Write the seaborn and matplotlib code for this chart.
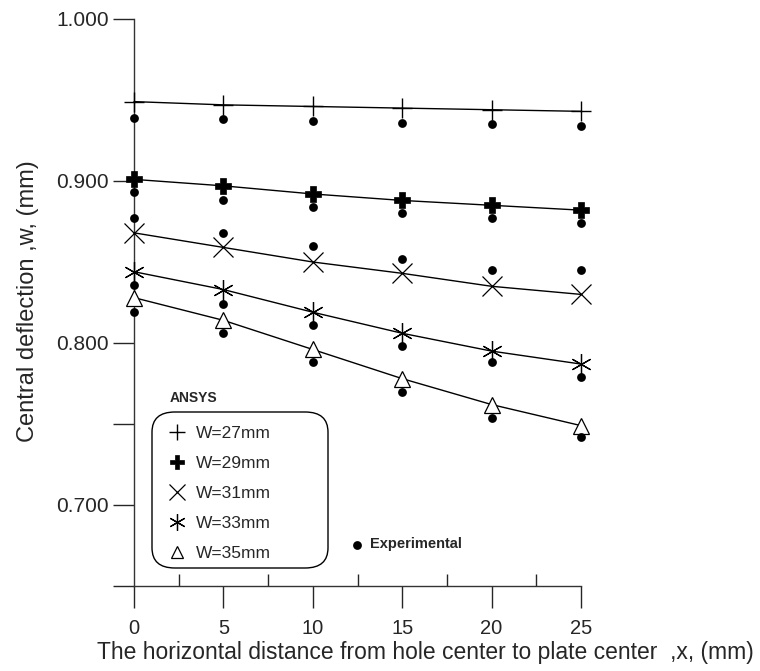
import numpy as np
import pandas as pd
import seaborn as sns
import matplotlib.pyplot as plt
from matplotlib.lines import Line2D
from matplotlib.patches import FancyBboxPatch
from matplotlib.ticker import MultipleLocator, FixedLocator

# distance from hole center to plate center (mm)
x = [0, 5, 10, 15, 20, 25]

# ANSYS central deflection (mm)
ansys_w27 = [0.949, 0.947, 0.946, 0.945, 0.944, 0.943]
ansys_w29 = [0.901, 0.897, 0.892, 0.888, 0.885, 0.882]
ansys_w31 = [0.868, 0.859, 0.850, 0.843, 0.835, 0.830]
ansys_w33 = [0.844, 0.833, 0.819, 0.806, 0.795, 0.787]
ansys_w35 = [0.828, 0.814, 0.796, 0.778, 0.762, 0.749]

# experimental central deflection (mm)
exp_w27 = [0.939, 0.938, 0.937, 0.936, 0.935, 0.934]
exp_w29 = [0.893, 0.888, 0.884, 0.880, 0.877, 0.874]
exp_w31 = [0.877, 0.868, 0.860, 0.852, 0.845, 0.845]
exp_w33 = [0.836, 0.824, 0.811, 0.798, 0.788, 0.779]
exp_w35 = [0.819, 0.806, 0.788, 0.770, 0.754, 0.742]

labels = ['W=27mm', 'W=29mm', 'W=31mm', 'W=33mm', 'W=35mm']

sns.set_style('white')
plt.rcParams['font.family'] = ['Liberation Sans', 'DejaVu Sans']

fig = plt.figure(figsize=(7.6, 6.71), dpi=100)
ax = fig.add_axes([134 / 760, 85 / 671, 447 / 760, 567 / 671])

# marker styles per width
styles = [
    dict(marker='+', markersize=15, mew=1.0, mfc='none'),
    dict(marker='P', markersize=12, mew=0.5, mfc='black'),
    dict(marker='x', markersize=14, mew=0.9, mfc='none'),
    dict(marker=(6, 2, 0), markersize=15, mew=0.9, mfc='none'),
    dict(marker='^', markersize=11, mew=0.9, mfc='white'),
]

ansys = [ansys_w27, ansys_w29, ansys_w31, ansys_w33, ansys_w35]
exper = [exp_w27, exp_w29, exp_w31, exp_w33, exp_w35]

for vals, st in zip(ansys, styles):
    sns.lineplot(x=x, y=vals, ax=ax, color='black', lw=1.0, mec='black',
                 clip_on=False, zorder=3, **st)

exp_df = pd.DataFrame({'x': x * 5, 'w': np.concatenate(exper)})
sns.scatterplot(data=exp_df, x='x', y='w', ax=ax, color='black', s=40,
                edgecolor='black', linewidth=0, clip_on=False, zorder=4)

ax.set_xlim(0, 25)
ax.set_ylim(0.65, 1.0)

for side in ['top', 'right']:
    ax.spines[side].set_visible(False)
for side in ['left', 'bottom']:
    ax.spines[side].set_color('#333333')
    ax.spines[side].set_linewidth(1.0)

ax.xaxis.set_major_locator(MultipleLocator(5))
ax.xaxis.set_minor_locator(FixedLocator([2.5, 7.5, 12.5, 17.5, 22.5]))
ax.yaxis.set_major_locator(FixedLocator([0.7, 0.8, 0.9, 1.0]))
ax.yaxis.set_minor_locator(FixedLocator([0.65, 0.75]))
ax.set_yticklabels(['0.700', '0.800', '0.900', '1.000'])

ax.tick_params(axis='x', which='major', direction='out', length=16, width=1,
               labelsize=14.5, pad=8, bottom=True)
ax.tick_params(axis='x', which='minor', direction='in', length=9, width=1,
               bottom=True)
ax.tick_params(axis='y', which='major', direction='out', length=15, width=1,
               labelsize=15, pad=3, left=True)
ax.tick_params(axis='y', which='minor', direction='out', length=15, width=1,
               left=True)

ax.set_xlabel('The horizontal distance from hole center to plate center  ,x, (mm)',
              fontsize=16.5)
ax.xaxis.set_label_coords((425 - 134) / 447, (586 - 641) / 567)
ax.set_ylabel('Central deflection ,w, (mm)', fontsize=17)
ax.yaxis.set_label_coords((39 - 134) / 447, (586 - 301) / 567)

# legend for ANSYS results, rounded box drawn separately
handles = []
for st in styles:
    s = dict(st)
    s['markersize'] = st['markersize'] * 0.8
    handles.append(Line2D([], [], color='black', ls='none', mec='black', **s))
leg = ax.legend(handles, labels, loc='upper left',
                bbox_to_anchor=(168 / 760, 1 - 426 / 671),
                bbox_transform=fig.transFigure, frameon=False,
                fontsize=12.5, handlelength=1.0, handletextpad=0.6,
                labelspacing=0.86, borderpad=0, borderaxespad=0)
leg.set_zorder(6)
box = FancyBboxPatch((152 / 760, 1 - 568 / 671), 176 / 760, 156 / 671,
                     boxstyle='round,pad=0,rounding_size=0.03',
                     transform=fig.transFigure, facecolor='white',
                     edgecolor='black', linewidth=1.0, zorder=5,
                     clip_on=False)
ax.add_patch(box)

fig.text(170 / 760, 1 - 398 / 671, 'ANSYS', fontsize=10, fontweight='bold',
         va='center', ha='left')
fig.text(370 / 760, 1 - 544 / 671, 'Experimental', fontsize=10.5,
         fontweight='bold', va='center', ha='left')
ax.scatter([12.47], [0.6753], color='black', s=40, linewidth=0,
           clip_on=False)

fig.savefig('out.png', dpi=100)
